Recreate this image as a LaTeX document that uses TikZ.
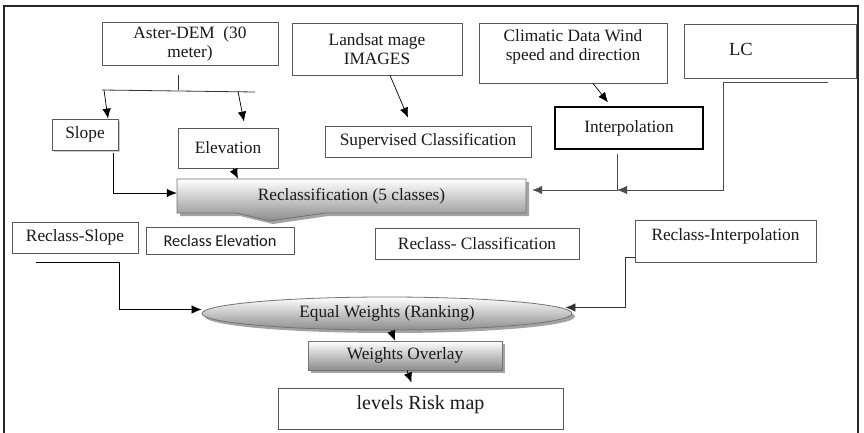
\documentclass[tikz,border=0pt]{standalone}
\usepackage{fontspec}
\setmainfont{Liberation Serif}
\newfontfamily\calib{Carlito}
\usetikzlibrary{shadows,arrows.meta,calc,shapes.geometric}
\begin{document}
\begin{tikzpicture}[x=1pt,y=-1pt,
  every node/.style={font=\fontsize{17.3}{19}\selectfont, text=black!90},
  box/.style={draw=black!65, line width=0.8pt, fill=white, inner sep=0pt, align=center},
  sbox/.style={box, drop shadow={shadow xshift=2pt, shadow yshift=-2pt, fill=black!25, opacity=0.8}},
  gbox/.style={draw=black!55, line width=0.8pt, top color=white, bottom color=black!45, inner sep=0pt,
    drop shadow={shadow xshift=3pt, shadow yshift=-3pt, fill=black!45, opacity=0.8}},
  txt/.style={inner sep=0pt, align=center},
  arr/.style={draw=black, line width=0.7pt, -{Latex[length=10pt,width=8.5pt]}},
  garr/.style={draw=black!70, line width=0.9pt, -{Latex[length=10pt,width=8.5pt]}},
  ln/.style={draw=black!70, line width=0.8pt}]
\useasboundingbox (0,0) rectangle (864,433);
\fill[white] (0,0) rectangle (864,433);
% frame
\draw[line width=1.6pt, black!85] (4,440) -- (4,6) -- (858,6) -- (858,440);

% top row
\node[box, minimum width=176, minimum height=43] (ast) at (190,43.5) {Aster-DEM~~(30\\meter)};
\node[box, minimum width=170, minimum height=52] (land) at (377,49) {Landsat mage\\IMAGES};
\node[box, minimum width=188, minimum height=60] (clim) at (573,53) {};
\node[txt] (climt) at (573,47) {Climatic Data Wind\\speed and direction};
\node[box, minimum width=172, minimum height=54] (lc) at (770,51) {};
\node[txt, font=\fontsize{18.5}{20}\selectfont] (lct) at (741,49) {LC};

% second row
\node[sbox, minimum width=66, minimum height=31] (slope) at (85,134.5) {Slope};
\node[box, minimum width=100, minimum height=40] (elev) at (228,148) {Elevation};
\node[box, minimum width=206, minimum height=31] (sup) at (428,141.5) {Supervised Classification};
\node[box, draw=black, line width=1.4pt, minimum width=148, minimum height=42] (interp) at (629,128) {Interpolation};

% reclassification callout
\path[gbox] (177,179) -- (526,179) -- (526,213) -- (325,213) -- (270,221) -- (237,213) -- (177,213) -- cycle;
\node[txt, minimum width=349, minimum height=34] (rc) at (351.5,196) {Reclassification (5 classes)};

% third row
\node[box, minimum width=126, minimum height=31] (rs) at (75,237.5) {Reclass-Slope};
\node[box, minimum width=148, minimum height=27, font=\calib\fontsize{16.4}{18}\selectfont] (re) at (220,240.5) {Reclass Elevation};
\node[box, minimum width=204, minimum height=31] (rcl) at (477,243.5) {Reclass- Classification};
\node[box, minimum width=181, minimum height=42] (ri) at (725.5,241) {};
\node[txt] (rit) at (725.5,236) {Reclass-Interpolation};

% ellipse and bottom
\node[ellipse, gbox, minimum width=370, minimum height=33] (eq) at (387,313.5) {Equal Weights (Ranking)};
\node[gbox, minimum width=194, minimum height=29] (wo) at (405,355.5) {Weights Overlay};
\node[box, minimum width=285, minimum height=41] (risk) at (420.5,408.5) {};
\node[txt, font=\fontsize{20}{22}\selectfont] (riskt) at (420.5,405) {levels Risk map};

% Aster split
\coordinate (a1) at (178,75);
\coordinate (a2) at (178,90);
\coordinate (aL) at (102,90);
\coordinate (aR) at (255,92);
\coordinate (aLs) at (104,90);
\coordinate (aRs) at (238,91.5);
\draw[ln, draw=black!80] (a1) -- (a2);
\draw[ln, draw=black!80] (aL) -- (aR);
\draw[arr] (aLs) -- ([xshift=23]slope.north);
\draw[arr] (aRs) -- ([xshift=16,yshift=6]elev.north);

% to reclassification
\draw[arr] ([xshift=28,yshift=-3]slope.south) |- ([yshift=3]rc.west);
\draw[arr] ([xshift=5]elev.south) -- ([xshift=10]elev.south |- rc.north);
\draw[arr] ([xshift=13]land.south) -- ([xshift=-20,yshift=8]sup.north);
\draw[arr] ([xshift=20]clim.south) -- ([xshift=-21,yshift=4]interp.north);
\coordinate (ij) at (617,190);
\draw[garr] ([xshift=-12,yshift=-4]interp.south) -- (ij) -- ([xshift=6,yshift=6]rc.east);
\draw[garr] ([xshift=58,yshift=-4]lc.south) -| ([xshift=-47]lc.south |- ij) -- (ij);

% to ellipse
\draw[arr] ([xshift=-39,yshift=-9]rs.south) -- ++(83,0) |- ([yshift=4]eq.west);
\draw[arr, draw=black!80] ([yshift=-16]ri.west) -- ++(-9,0) |- ([xshift=-7,yshift=6]eq.east);

% bottom chain
\draw[arr] ([xshift=4]eq.south) -- ([xshift=-10]wo.north);
\draw[arr] ([xshift=2]wo.south) -- ([xshift=-9,yshift=5]risk.north);
\end{tikzpicture}
\end{document}
